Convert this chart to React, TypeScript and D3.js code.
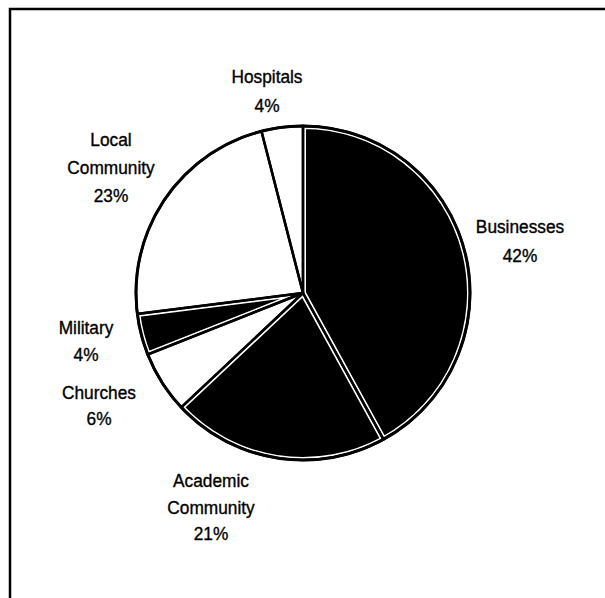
import React from "react";
import * as d3 from "d3";

const categories = ["Businesses", "Academic Community", "Churches", "Military", "Local Community", "Hospitals"];
const values = [42, 21, 6, 4, 23, 4];
const fills = ["#000", "#000", "#fff", "#000", "#fff", "#fff"];
const labelLines = [
  ["Businesses", "42%"],
  ["Academic", "Community", "21%"],
  ["Churches", "6%"],
  ["Military", "4%"],
  ["Local", "Community", "23%"],
  ["Hospitals", "4%"],
];
// label anchor (center x, first baseline y, line spacing)
const labelX = [520, 211, 99, 86, 111, 267];
const labelY = [233, 487, 399, 334, 146, 83];
const labelGap = [29, 26.5, 26, 27, 28, 29];

const W = 605, H = 598;
const cx = 303, cy = 293, R = 167;

export default function App() {
  const pie = d3.pie<number>().sort(null).startAngle(0).endAngle(2 * Math.PI);
  const arcs = pie(values);
  const arc = d3.arc<d3.PieArcDatum<number>>().innerRadius(0).outerRadius(R);
  return (
    <svg width={W} height={H} style={{ position: "absolute", left: 0, top: 0, background: "#fff" }}>
      <defs>
        {arcs.map((a, i) => (
          <clipPath id={"clip" + i} key={i}>
            <path d={arc(a) || ""} />
          </clipPath>
        ))}
      </defs>
      <path d="M10,600 V9 H606" fill="none" stroke="#000" strokeWidth={2.5} />
      <g transform={`translate(${cx},${cy})`}>
        {arcs.map((a, i) => (
          <path key={"f" + i} d={arc(a) || ""} fill={fills[i]} stroke="none" />
        ))}
        {arcs.map((a, i) =>
          fills[i] === "#000" ? (
            <path key={"w" + i} d={arc(a) || ""} fill="none" stroke="#fff" strokeWidth={6} clipPath={`url(#clip${i})`} strokeLinejoin="miter" />
          ) : null
        )}
        {arcs.map((a, i) => (
          <path key={"o" + i} d={arc(a) || ""} fill="none" stroke="#000" strokeWidth={2.5} strokeLinejoin="miter" />
        ))}
        <circle r={R} fill="none" stroke="#000" strokeWidth={3} />
      </g>
      <g fontFamily="'Liberation Sans', Arial, Helvetica, sans-serif" fontSize={18} fill="#000" stroke="#000" strokeWidth={0.35}>
        {labelLines.map((lines, i) =>
          lines.map((t, j) => (
            <text
              key={i + "-" + j}
              transform={`translate(${labelX[i]},${labelY[i] + j * labelGap[i]}) scale(0.96,1)`}
              textAnchor="middle"
            >
              {t}
            </text>
          ))
        )}
      </g>
    </svg>
  );
}
